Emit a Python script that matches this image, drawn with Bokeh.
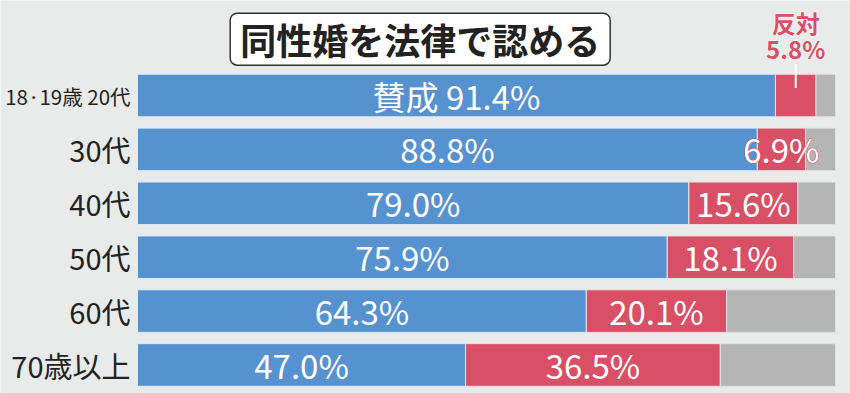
from bokeh.plotting import figure
from bokeh.models import ColumnDataSource, Range1d, Label
from bokeh.core.properties import value
from bokeh.embed import file_html
from bokeh.resources import INLINE

# ---- data ----
groups = ["18·19歳 20代", "30代", "40代", "50代", "60代", "70歳以上"]
agree = [91.4, 88.8, 79.0, 75.9, 64.3, 47.0]
oppose = [5.8, 6.9, 15.6, 18.1, 20.1, 36.5]
other = [2.8, 4.3, 5.4, 6.0, 15.6, 16.5]
title_text = "同性婚を法律で認める"
agree_prefix = "賛成 "
oppose_prefix = "反対"

BG = "#E9EBEB"
BLUE = "#5792D0"
RED = "#D94F65"
GRAY = "#B5B5B5"
FONT = "Noto Sans CJK JP"

ys = list(range(len(groups)))
right_r = [a + o for a, o in zip(agree, oppose)]
right_g = [a + o + g for a, o, g in zip(agree, oppose, other)]

src = ColumnDataSource(dict(
    y=ys, agree=agree, red_r=right_r, gray_r=right_g,
    agree_x=[a / 2 for a in agree],
    agree_lbl=[(agree_prefix if i == 0 else "") + f"{a:.1f}%" for i, a in enumerate(agree)],
))
red_x = [a + o / 2 for a, o in zip(agree, oppose)]
red_lbl = [f"{o:.1f}%" for o in oppose]

W, H = 850, 393
p = figure(width=W, height=H, output_backend="svg", toolbar_location=None,
           x_range=Range1d(-19.63, 102.15), y_range=Range1d(5.529, -1.763),
           min_border=0, min_border_left=0, min_border_right=0,
           min_border_top=0, min_border_bottom=0)
p.axis.visible = False
p.grid.visible = False
p.outline_line_color = None
p.background_fill_color = BG
p.border_fill_color = BG

bh = 0.79
p.hbar(y="y", left=0, right="agree", height=bh, source=src,
       fill_color=BLUE, line_color="#DCEEF6", line_width=1)
p.hbar(y="y", left="agree", right="red_r", height=bh, source=src,
       fill_color=RED, line_color="#F2DEE2", line_width=1)
p.hbar(y="y", left="red_r", right="gray_r", height=bh, source=src,
       fill_color=GRAY, line_color="#E2E2E2", line_width=1)

# in-bar labels
p.text(x="agree_x", y="y", text="agree_lbl", source=src, text_color="white",
       text_font=value(FONT), text_font_size="33px", text_align="center",
       text_baseline="middle")
# narrow red segment (30代): red halo underneath, white text on top
for col, outline in ((RED, RED), ("white", None)):
    p.text(x=[red_x[1]], y=[ys[1]], text=[red_lbl[1]], text_color=col,
           text_font=value(FONT), text_font_size="33px", text_align="center",
           text_baseline="middle", text_outline_color=outline)
red_src = ColumnDataSource(dict(x=red_x[2:], y=ys[2:], t=red_lbl[2:]))
p.text(x="x", y="y", text="t", source=red_src, text_color="white",
       text_font=value(FONT), text_font_size="33px", text_align="center",
       text_baseline="middle")

# first-row oppose callout above the bar
cx = red_x[0]
p.segment(x0=[cx], x1=[cx], y0=[-0.58], y1=[-0.14], line_color="white", line_width=2)
top_src = ColumnDataSource(dict(x=[cx, cx], y=[-1.36, -0.88],
                                t=[oppose_prefix, red_lbl[0]]))
for col, outline in (("white", "white"), (RED, None)):
    p.text(x="x", y="y", text="t", source=top_src, text_color=col,
           text_font=value(FONT), text_font_size="24px", text_font_style="bold",
           text_align="center", text_baseline="middle", text_outline_color=outline)

# category labels
cat_src = ColumnDataSource(dict(x=[-1.0] * len(groups), y=ys, t=groups,
                                fs=["20.5px"] + ["29px"] * (len(groups) - 1)))
p.text(x="x", y="y", text="t", source=cat_src, text_color="#222222",
       text_font=value(FONT), text_font_size="fs", text_align="right",
       text_baseline="middle")

# title box
p.add_layout(Label(x=40.5, y=-1.045, text=title_text, text_align="center",
                   text_baseline="middle", text_font=FONT, text_font_style="bold",
                   text_font_size="36px", text_color="#222222",
                   background_fill_color="white", border_line_color="#333333",
                   border_line_width=1.5, border_radius=7, padding=(10, 0)))

open("out.html", "w").write(file_html(p, INLINE))
